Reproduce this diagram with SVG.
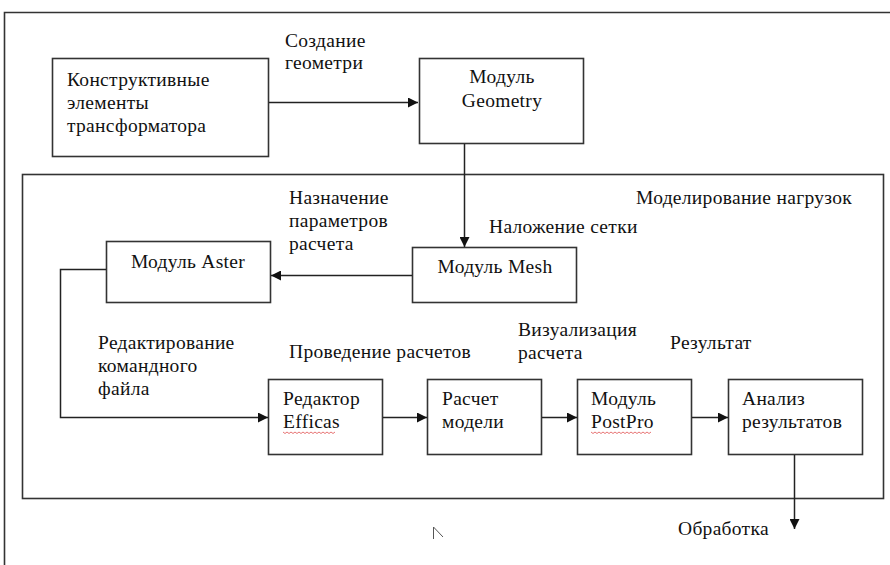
<svg xmlns="http://www.w3.org/2000/svg" width="890" height="565" viewBox="0 0 890 565">
<defs>
<marker id="ah" viewBox="0 0 10 10" refX="10" refY="5" markerWidth="10" markerHeight="10" markerUnits="userSpaceOnUse" orient="auto">
<path d="M0,0 L10,5 L0,10 Z" fill="#111"/>
</marker>
<style>
text{font-family:"Liberation Serif","Times New Roman",serif;font-size:19.5px;letter-spacing:0.3px;fill:#111}
.box{fill:#fff;stroke:#333;stroke-width:1.6}
.frame{fill:none;stroke:#333;stroke-width:1.6}
.c{fill:none;stroke:#222;stroke-width:1.5}
.mid{text-anchor:middle}
.wavy{fill:none;stroke:#e05050;stroke-width:0.8}
</style>
</defs>
<rect width="890" height="565" fill="#fff"/>
<g id="outer-frame"><path class="frame" d="M4.5,575 V12.5 H900"/></g>
<g id="frame-modeling">
<rect class="frame" x="22.5" y="174.5" width="861" height="324"/>
<text x="636" y="204">Моделирование нагрузок</text>
</g>
<g id="n-elements">
<rect class="box" x="52.5" y="58.5" width="216" height="98"/>
<text x="67" y="86">Конструктивные</text>
<text x="67" y="109">элементы</text>
<text x="67" y="132">трансформатора</text>
</g>
<g id="n-geometry">
<rect class="box" x="419.5" y="58.5" width="164" height="85"/>
<text class="mid" x="502" y="83">Модуль</text>
<text class="mid" x="502" y="107">Geometry</text>
</g>
<g id="n-mesh">
<rect class="box" x="412.5" y="247.5" width="164" height="55"/>
<text class="mid" x="495" y="273">Модуль Mesh</text>
</g>
<g id="n-aster">
<rect class="box" x="106.5" y="241.5" width="164" height="61"/>
<text class="mid" x="188" y="268">Модуль Aster</text>
</g>
<g id="n-efficas">
<rect class="box" x="268.5" y="379.5" width="114" height="75"/>
<text x="283" y="405">Редактор</text>
<text x="283" y="428">Efficas</text>
<path class="wavy" d="M283,432 l2,1.5 l2,-1.5 l2,1.5 l2,-1.5 l2,1.5 l2,-1.5 l2,1.5 l2,-1.5 l2,1.5 l2,-1.5 l2,1.5 l2,-1.5 l2,1.5 l2,-1.5 l2,1.5 l2,-1.5 l2,1.5 l2,-1.5 l2,1.5 l2,-1.5 l2,1.5 l2,-1.5 l2,1.5 l2,-1.5 l2,1.5 l2,-1.5"/>
</g>
<g id="n-raschet">
<rect class="box" x="427.5" y="379.5" width="114" height="75"/>
<text x="442" y="405">Расчет</text>
<text x="442" y="428">модели</text>
</g>
<g id="n-postpro">
<rect class="box" x="577.5" y="379.5" width="114" height="75"/>
<text x="591" y="405">Модуль</text>
<text x="591" y="428">PostPro</text>
<path class="wavy" d="M591,432 l2,1.5 l2,-1.5 l2,1.5 l2,-1.5 l2,1.5 l2,-1.5 l2,1.5 l2,-1.5 l2,1.5 l2,-1.5 l2,1.5 l2,-1.5 l2,1.5 l2,-1.5 l2,1.5 l2,-1.5 l2,1.5 l2,-1.5 l2,1.5 l2,-1.5 l2,1.5 l2,-1.5 l2,1.5 l2,-1.5 l2,1.5 l2,-1.5 l2,1.5 l2,-1.5 l2,1.5 l2,-1.5"/>
</g>
<g id="n-analiz">
<rect class="box" x="728.5" y="379.5" width="134" height="75"/>
<text x="742" y="405">Анализ</text>
<text x="742" y="428">результатов</text>
</g>
<g id="connectors">
<path class="c" d="M269,102.5 H418" marker-end="url(#ah)"/>
<path class="c" d="M464.5,144 V247" marker-end="url(#ah)"/>
<path class="c" d="M412,275.5 H271" marker-end="url(#ah)"/>
<path class="c" d="M106,269.5 H60.5 V417.5 H268" marker-end="url(#ah)"/>
<path class="c" d="M383,417.5 H427" marker-end="url(#ah)"/>
<path class="c" d="M542,417.5 H577" marker-end="url(#ah)"/>
<path class="c" d="M692,417.5 H728" marker-end="url(#ah)"/>
<path class="c" d="M794.5,455 V529" marker-end="url(#ah)"/>
</g>
<g id="labels">
<text x="285" y="47">Создание</text>
<text x="285" y="69">геометри</text>
<text x="289" y="204">Назначение</text>
<text x="289" y="227">параметров</text>
<text x="289" y="250">расчета</text>
<text x="489" y="233">Наложение сетки</text>
<text x="98" y="349">Редактирование</text>
<text x="98" y="372">командного</text>
<text x="98" y="395">файла</text>
<text x="289" y="358">Проведение расчетов</text>
<text x="518" y="336">Визуализация</text>
<text x="518" y="359">расчета</text>
<text x="670" y="349">Результат</text>
<text x="678" y="535">Обработка</text>
</g>
<g id="cursor"><path d="M433.5,527 V539 M433.5,527 L443,537" fill="none" stroke="#555" stroke-width="1"/></g>
</svg>
